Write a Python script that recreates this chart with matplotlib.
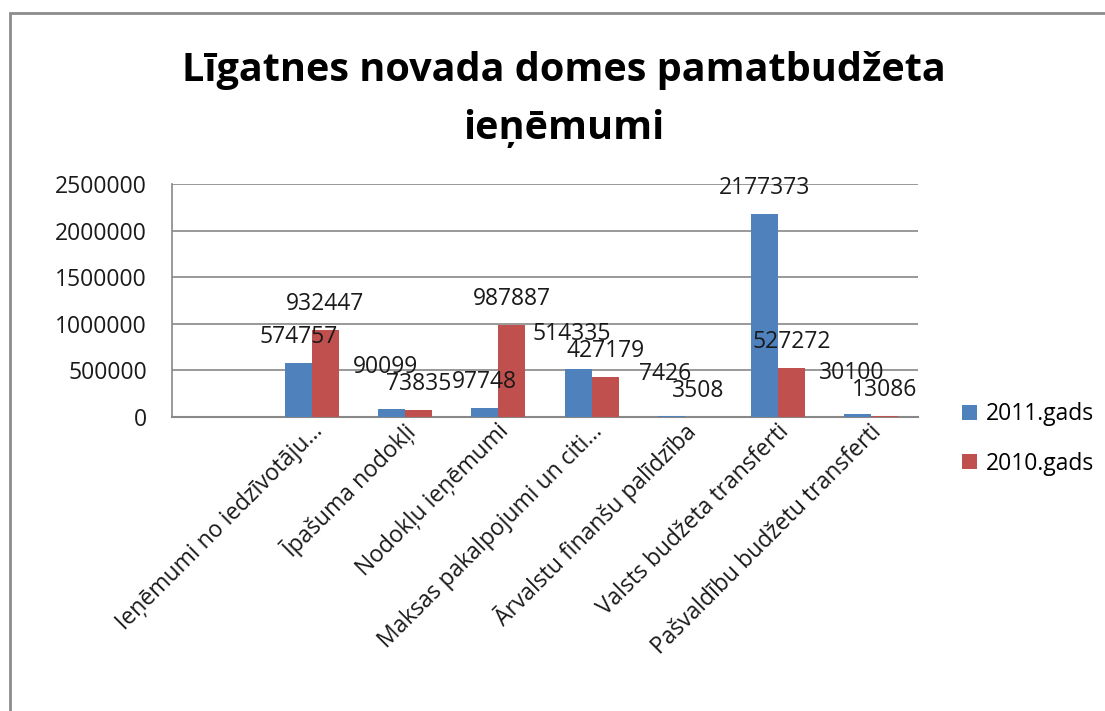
import numpy as np
import matplotlib
matplotlib.use('Agg')
import matplotlib.pyplot as plt
import matplotlib.transforms as mtransforms
from matplotlib.patches import Rectangle

plt.rcParams['font.family'] = ['Open Sans', 'DejaVu Sans']

# data (first slot is empty in the original)
categories = ['', 'Ieņēmumi no iedzīvotāju...', 'Īpašuma nodokļi', 'Nodokļu ieņēmumi',
              'Maksas pakalpojumi un citi...', 'Ārvalstu finanšu palīdzība',
              'Valsts budžeta transferti', 'Pašvaldību budžetu transferti']
gads_2011 = [np.nan, 574757, 90099, 97748, 514335, 7426, 2177373, 30100]
gads_2010 = [np.nan, 932447, 73835, 987887, 427179, 3508, 527272, 13086]
series_names = ['2011.gads', '2010.gads']
y_ticks = [0, 500000, 1000000, 1500000, 2000000, 2500000]

blue = '#4F81BD'
red = '#C0504D'
grid_col = '#888888'
fs = 16.5

fig = plt.figure(figsize=(11.05, 7.11), dpi=100)
ax = fig.add_axes([172/1105, 1 - 417/711, (918-172)/1105, (417-184)/711])

# outer chart border (runs off the right and bottom edge)
fig.patches.append(Rectangle((10/1105, -0.05), 1.1, 1 - 13/711 + 0.05,
                             transform=fig.transFigure, fill=False,
                             edgecolor='#8c8c8c', linewidth=2))

x = np.arange(len(categories)) + 0.5
w = 0.29
b1 = ax.bar(x - w/2, gads_2011, w, color=blue, label=series_names[0], zorder=3)
b2 = ax.bar(x + w/2, gads_2010, w, color=red, label=series_names[1], zorder=3)

ax.set_xlim(0, len(categories))
ax.set_ylim(0, 2500000)

# value labels: 26 px above the bar; blue label lifted when it would collide with the red one
px_per_val = ax.bbox.height / 2500000
pt = 72 / fig.dpi
for r1, r2, v1, v2 in zip(b1, b2, gads_2011, gads_2010):
    if np.isnan(v1):
        continue
    red_y = v2 * px_per_val + 26
    blue_y = v1 * px_per_val + 26
    dx = 0
    if abs(blue_y - red_y) < 18 and blue_y - red_y < 18:
        blue_y = red_y + 17
        dx = -6
    ax.annotate(f'{int(v1)}', (r1.get_x() + r1.get_width()/2, 0),
                xytext=(dx * pt, blue_y * pt), textcoords='offset points',
                ha='center', va='center', fontsize=fs, color='#1a1a1a', zorder=4)
    ax.annotate(f'{int(v2)}', (r2.get_x() + r2.get_width()/2, 0),
                xytext=(0, red_y * pt), textcoords='offset points',
                ha='center', va='center', fontsize=fs, color='#1a1a1a', zorder=5)

ax.set_yticks(y_ticks)
ax.set_yticklabels([str(t) for t in y_ticks], fontsize=fs, color='#1a1a1a')
ax.yaxis.grid(True, color=grid_col, linewidth=1.2, zorder=0)
ax.tick_params(axis='both', length=0)
ax.tick_params(axis='y', pad=18)
ax.tick_params(axis='x', pad=8)

ax.set_xticks(x)
ax.set_xticklabels(categories, rotation=45, ha='right', va='center',
                   rotation_mode='anchor', fontsize=fs, color='#1a1a1a')
shift = mtransforms.ScaledTranslation(7/100, 0, fig.dpi_scale_trans)
for lab in ax.get_xticklabels():
    lab.set_transform(lab.get_transform() + shift)

for s in ('top', 'right'):
    ax.spines[s].set_visible(False)
ax.spines['left'].set_color(grid_col)
ax.spines['bottom'].set_color(grid_col)
ax.spines['left'].set_linewidth(1.2)
ax.spines['bottom'].set_linewidth(1.5)

fig.text(0.51, 1 - 70/711, 'Līgatnes novada domes pamatbudžeta', ha='center', va='center',
         fontsize=28.5, fontweight='bold', color='black')
fig.text(0.51, 1 - 128/711, 'ieņēmumi', ha='center', va='center',
         fontsize=28.5, fontweight='bold', color='black')

fig.legend(handles=[b1, b2], labels=series_names, loc='center left',
           bbox_to_anchor=(941/1105, 1 - 439/711), frameon=False, fontsize=fs,
           handlelength=0.65, handleheight=0.65, handletextpad=0.4, labelspacing=1.1)

fig.savefig('out.png', dpi=100, facecolor='white')
